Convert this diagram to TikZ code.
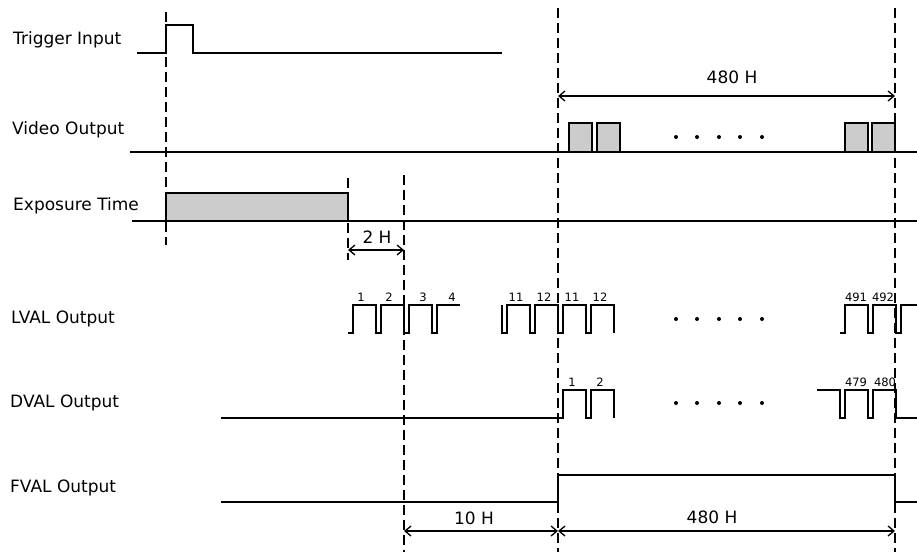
\documentclass[tikz,border=0pt]{standalone}
\usepackage{fontspec}
\setmainfont{DejaVu Sans}
\usetikzlibrary{arrows.meta}
\tikzset{
  sig/.style={line width=1.6pt},
  guide/.style={line width=2.4pt, dash pattern=on 10pt off 5pt},
  dim/.style={line width=1.3pt, {Straight Barb[length=6pt,width=10pt]}-{Straight Barb[length=6pt,width=10pt]}},
  cell/.style={draw, fill=black!20, line width=1.6pt},
  rowlabel/.style={anchor=west, inner sep=0pt, font=\fontsize{17}{20}\selectfont},
  dimlabel/.style={inner sep=0pt, font=\fontsize{17}{20}\selectfont},
  idx/.style={anchor=base, inner sep=0pt, font=\fontsize{11.5}{13}\selectfont},
}
\begin{document}
\begin{tikzpicture}[x=1pt, y=-1pt, line join=miter, line cap=butt]
			\useasboundingbox (0,0) rectangle (917,552);
			\def\lvhi{305} \def\lvlo{333} \def\dvhi{390} \def\dvlo{418}
			% signal names
			\node[rowlabel] (trig) at (13,40) {Trigger Input};
			\node[rowlabel] (video) at (12,130) {Video Output};
			\node[rowlabel] (expo) at (13,206) {Exposure Time};
			\node[rowlabel] (lval) at (11,319) {LVAL Output};
			\node[rowlabel] (dval) at (10,403) {DVAL Output};
			\node[rowlabel] (fval) at (10,488) {FVAL Output};
			% trigger
			\draw[sig] (137,53)--(166,53)--(166,25)--(193,25)--(193,53)--(502,53);
			% video
			\draw[sig] (130,152)--(917,152);
			\foreach \a in {569,597,845,872} \draw[cell] (\a,123) rectangle ++(23,29);
			% exposure
			\draw[sig] (132,221)--(917,221);
			\draw[cell] (166,193) rectangle (348,221);
			% LVAL
			\draw[sig] (348,\lvlo) foreach \r in {353,381,409} {--(\r,\lvlo)--(\r,\lvhi)--(\r+23,\lvhi)--(\r+23,\lvlo)}
			--(437,\lvlo)--(437,\lvhi)--(460,\lvhi);
			\draw[sig] (502,\lvhi)--(502,\lvlo) foreach \r in {507,535,563,591} {--(\r,\lvlo)--(\r,\lvhi)--(\r+23,\lvhi)--(\r+23,\lvlo)};
			\draw[sig] (840,\lvlo) foreach \r in {845,873} {--(\r,\lvlo)--(\r,\lvhi)--(\r+23,\lvhi)--(\r+23,\lvlo)}
			--(901,\lvlo)--(901,\lvhi)--(917,\lvhi);
			\foreach \x/\t in {361/1,389/2,423/3,452/4,516/11,544/12,572/11,600/12,856/491,883/492}
				\node[idx] (l\x) at (\x,301) {\t};
			% DVAL
			\draw[sig] (221,\dvlo) foreach \r in {563,591} {--(\r,\dvlo)--(\r,\dvhi)--(\r+23,\dvhi)--(\r+23,\dvlo)};
			\draw[sig] (817,\dvhi)--(840,\dvhi)--(840,\dvlo) foreach \r in {845,873} {--(\r,\dvlo)--(\r,\dvhi)--(\r+23,\dvhi)--(\r+23,\dvlo)}
			--(917,\dvlo);
			\foreach \x/\t in {572/1,600/2,856/479,885/480}
				\node[idx] (d\x) at (\x,386) {\t};
			% FVAL
			\draw[sig] (221,502)--(558,502)--(558,475)--(895,475)--(895,502)--(917,502);
			% dots
			\foreach \y in {137,319,403} \foreach \x in {676,697,719,740,762}
				\fill (\x,\y) circle (2pt);
			% guide lines
			\coordinate (g1t) at (166,12);  \coordinate (g1b) at (166,245);
			\coordinate (g2t) at (348,178); \coordinate (g2b) at (348,260);
			\coordinate (g3t) at (404,175); \coordinate (g3b) at (404,552);
			\coordinate (g4t) at (558,8);   \coordinate (g4b) at (558,552);
			\coordinate (g5t) at (895,8);   \coordinate (g5b) at (895,552);
			\foreach \g in {g1,g2,g3,g4,g5} \draw[guide] (\g t)--(\g b);
			% dimensions
			\coordinate (ta) at (558,96);  \coordinate (tb) at (895,96);
			\coordinate (ea) at (348,250); \coordinate (eb) at (404,250);
			\coordinate (ba) at (404,531); \coordinate (bm) at (558,531); \coordinate (bb) at (895,531);
			\draw[dim] (ta)--(tb);
			\draw[dim] (ea)--(eb);
			\draw[dim] (ba)--(bm);
			\draw[dim] (bm)--(bb);
			\node[dimlabel] (htop) at (732,77) {480 H};
			\node[dimlabel] (htwo) at (377,237) {2 H};
			\node[dimlabel] (hten) at (474,518) {10 H};
			\node[dimlabel] (hbot) at (712,517) {480 H};
		\end{tikzpicture}
\end{document}
